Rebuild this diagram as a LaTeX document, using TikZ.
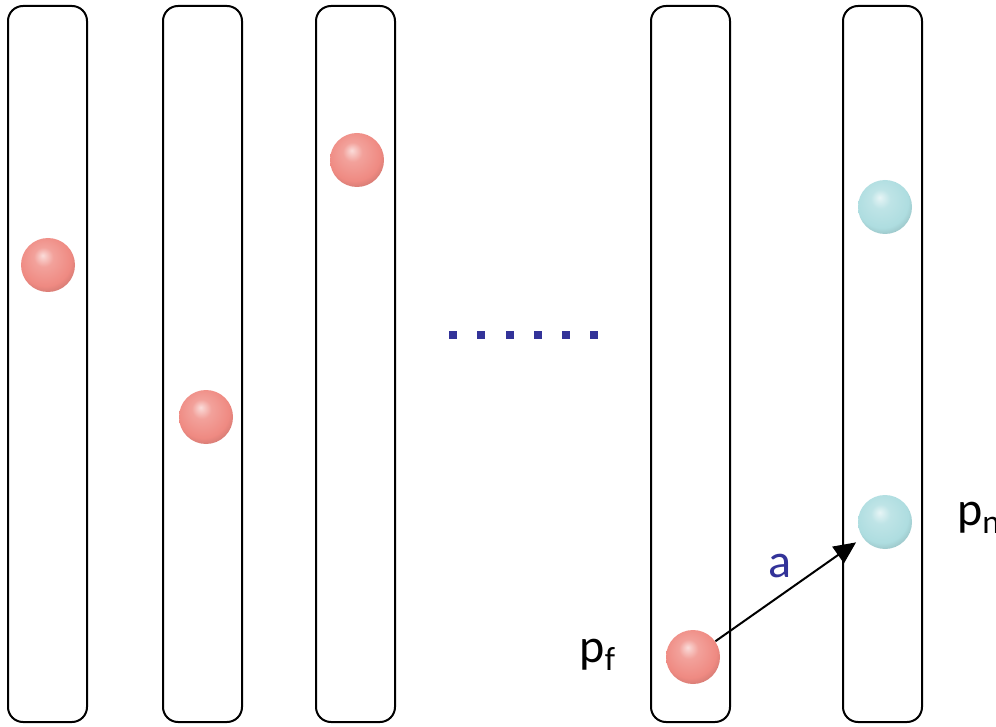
\documentclass[tikz,border=0pt]{standalone}
\usepackage{fontspec}
\setmainfont{Carlito}
\definecolor{BallRed}{HTML}{EF8A82}
\definecolor{BallCyan}{HTML}{AEDDE0}
\definecolor{DotBlue}{HTML}{333399}
\usetikzlibrary{arrows.meta}
\pgfdeclareradialshading{redball}{\pgfpoint{-5bp}{9bp}}{color(0bp)=(white!70!BallRed); color(9bp)=(BallRed!80!white); color(24bp)=(BallRed); color(32bp)=(BallRed!85!black); color(50bp)=(BallRed!55!black)}
\pgfdeclareradialshading{cyanball}{\pgfpoint{-5bp}{9bp}}{color(0bp)=(white!70!BallCyan); color(9bp)=(BallCyan!80!white); color(24bp)=(BallCyan); color(32bp)=(BallCyan!85!black); color(50bp)=(BallCyan!55!black)}

\begin{document}
\begin{tikzpicture}[x=0.5pt, y=-0.5pt,
    column/.style={draw, line width=1pt, rounded corners=7.5pt, minimum width=39.5pt, minimum height=358pt, inner sep=0pt},
    ball/.style={circle, minimum size=27pt, inner sep=0pt},
    label/.style={font=\fontsize{24}{28}\selectfont}]
  \useasboundingbox (0,0) rectangle (996,727);
  % columns
  \node[column] (c1) at (47.5,364) {};
  \node[column] (c2) at (202.5,364) {};
  \node[column] (c3) at (355.5,364) {};
  \node[column] (c4) at (690.5,364) {};
  \node[column] (c5) at (882.5,364) {};
  % particles
  \node[ball, shading=redball] (b1) at (48,265) {};
  \node[ball, shading=redball] (b2) at (206,417) {};
  \node[ball, shading=redball] (b3) at (357,160) {};
  \node[ball, shading=redball] (pf) at (693,657) {};
  \node[ball, shading=cyanball] (q1) at (885,207) {};
  \node[ball, shading=cyanball] (pn) at (885,522) {};
  % dots
  \foreach \x in {453,481,510,538,566,594}
    \fill[DotBlue] (\x-4,331) rectangle (\x+4,339);
  \draw[line width=1pt, -{Triangle[length=11pt, width=10pt]}, shorten >=4pt] (pf) -- (pn);
  \node[label, text=DotBlue] (a) at (780,566) {a};
  \node[label] (lf) at (598,655) {p\textsubscript{f}};
  \node[label, anchor=west] (ln) at (950,518) {p\textsubscript{n}};
\end{tikzpicture}
\end{document}
